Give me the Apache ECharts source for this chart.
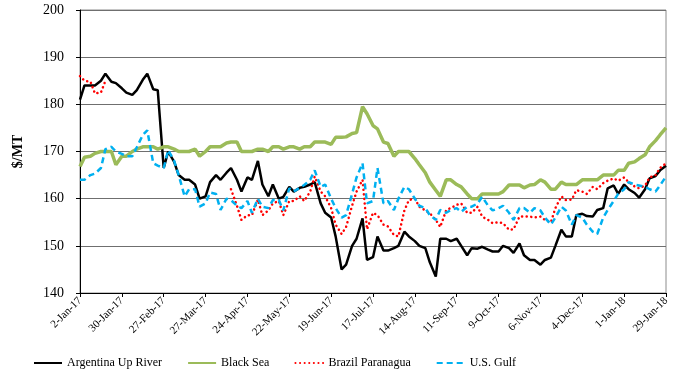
<!DOCTYPE html>
<html>
<head>
<meta charset="utf-8">
<script src="https://cdn.jsdelivr.net/npm/echarts@6/dist/echarts.min.js"></script>
<style>html,body{margin:0;padding:0;background:#fff}#c{width:680px;height:386px}</style>
</head>
<body>
<div id="c"></div>
<script>
// Sampling grid: Mondays and Thursdays from 2-Jan-2017 to 29-Jan-2018
const startDate = '2017-01-02';
const dayOffsets = [];
for (let w = 0; w < 56; w++) { dayOffsets.push(w * 7, w * 7 + 3); }
dayOffsets.push(392);

const xTickLabels = ['2-Jan-17','30-Jan-17','27-Feb-17','27-Mar-17','24-Apr-17','22-May-17','19-Jun-17','17-Jul-17','14-Aug-17','11-Sep-17','9-Oct-17','6-Nov-17','4-Dec-17','1-Jan-18','29-Jan-18'];
const yTicks = [140,150,160,170,180,190,200];

const argentina = [
181,184, 184,184, 185,186.5, 184.8,184.5, 183.4,182.5, 182,183, 185.2,186.5, 183.2,183,
166.5,170, 167.8,165, 164,164, 163,160, 160.5,163.5, 165,164, 165.5,166.5, 164,161.5,
164.5,164, 168,163, 160.5,163, 160,160.4, 162.5,161.5, 162.3,162.5, 163,163.5, 159,157,
156,152, 145,146, 150,151.5, 155.8,147, 147.6,152, 149,149, 149.5,150, 153,152,
151,150, 149.5,146.5, 143.5,151.5, 151.5,151, 151.5,150, 148,149.5, 149.4,149.8, 149.2,148.8,
148.8,150, 149.5,148.5, 150.5,148, 147,147, 146,147, 147.5,150, 153.4,152, 152,156.5,
156.8,156.3, 156.2,157.6, 158,162.2, 162.8,161, 163,162, 161.2,160.2, 162,164.3, 164.8,166,
167];

const blackSea = [
166.8,168.8, 169,169.6, 170,170, 170,167.2, 169,169, 170,170.5, 171,171, 171,170.5,
171,171, 170.5,170, 170,170, 170.5,169, 170,171, 171,171, 171.8,172, 172,170,
170,170, 170.5,170.5, 170,171, 171,170.5, 171,171, 170.5,171, 171,172, 172,172,
171.5,173, 173,173.1, 173.8,174, 179.5,178, 175.5,174.8, 172,171.7, 169,170, 170,170,
168.5,167.2, 165.5,163.5, 161.8,160.5, 164,164, 163,162.5, 161,160, 160,161, 161,161,
161,161.5, 162.9,162.9, 162.9,162.3, 162.9,163, 164,163.5, 162,162, 163.5,163, 163,163,
164,164, 164,164, 165,165, 165,166, 166,167.5, 167.8,168.5, 169.3,171, 172.3,173.5,
175];

const brazil = [
186,185, 184.8,182.3, 182.5,185, null,null, null,null, null,null, null,null, null,null,
null,null, null,null, null,null, null,null, null,null, null,null, null,162, 158.5,155.5,
156.5,156.5, 159.8,156.5, 157.5,159, 159.5,156.5, 159.5,159.5, 160.5,159.5, 161.5,164.7, 161.5,160.5,
158,154.5, 152.5,154, 158.5,161.5, 164,153.5, 157,156.5, 154.5,154.1, 152.3,152, 157.5,159.7,
160,158.3, 157.5,156.9, 155.5,154, 157.6,158, 158.7,159, 157,157, 158.3,156.2, 155.5,154.8,
155,154.8, 153.4,153.5, 156.2,156.2, 156.2,156, 156.2,155.5, 155,158, 160.5,159.7, 159.8,161.8,
161.5,161, 162.5,162, 163.3,163.8, 164.3,163.8, 164.5,163.5, 162.6,162.2, 162.8,164.5, 165,166.5,
167.5];

const usGulf = [
164,164, 165,165.3, 166.5,170.5, 171,170, 169.5,169, 169,170.9, 173.5,174.5, 167.5,167,
166.5,170.3, 168,165, 160.5,162, 162,158.3, 159,161.3, 161,157.6, 160,159.7, 158.5,158,
159.5,157, 160,158.3, 158,159.7, 159.7,157.5, 162.2,161.5, 162.3,162.9, 164,166, 162.5,163,
160,158, 156,156.5, 161,164.5, 167.5,159, 159.5,166.5, 159,159.5, 157.6,160, 162.5,162,
160,158.5, 158,156.5, 155.5,157.6, 157,157.6, 158,157.2, 158.3,158.3, 159,160.4, 158.5,157.5,
158,158.5, 157,155.5, 158,158, 157,158, 157.5,156, 154.5,156, 158.3,157.5, 154.5,156.5,
156,154.5, 153,152.5, 156,157.6, 159.5,161, 162,163.5, 163,162.8, 162.5,162, 161.5,162.8,
164.7];

function pairs(vals) { return dayOffsets.map((d, i) => [d, vals[i]]); }

const FONT = 'Liberation Serif';
const chart = echarts.init(document.getElementById('c'), null, { renderer: 'canvas' });
chart.setOption({
  animation: false,
  backgroundColor: '#fff',
  grid: { left: 80, right: 14, top: 10, bottom: 93, show: true, borderColor: '#8c8c8c', borderWidth: 1 },
  xAxis: {
    type: 'value', min: 0, max: 392, interval: 28,
    axisLine: { show: true, lineStyle: { color: '#000', width: 1 } },
    axisTick: { show: true, length: 4, lineStyle: { color: '#000' } },
    splitLine: { show: false },
    axisLabel: {
      rotate: 45, margin: 6, color: '#000', fontFamily: FONT, fontSize: 11,
      formatter: v => xTickLabels[Math.round(v / 28)] || ''
    }
  },
  yAxis: {
    type: 'value', min: yTicks[0], max: yTicks[yTicks.length - 1], interval: 10,
    name: '$/MT', nameLocation: 'middle', nameGap: 55,
    nameTextStyle: { fontFamily: FONT, fontSize: 14, fontWeight: 'bold', color: '#000' },
    axisLine: { show: true, lineStyle: { color: '#000', width: 1 } },
    axisTick: { show: true, length: 4, lineStyle: { color: '#000' } },
    splitLine: { show: true, lineStyle: { color: '#6f6f6f', width: 1 } },
    axisLabel: { margin: 16, color: '#000', fontFamily: FONT, fontSize: 14 }
  },
  legend: {
    left: 28, top: 352, itemWidth: 28, itemHeight: 10, itemGap: 25,
    itemStyle: { opacity: 0 },
    textStyle: { fontFamily: FONT, fontSize: 12, color: '#000' },
    data: ['Argentina Up River', 'Black Sea', 'Brazil Paranagua', 'U.S. Gulf']
  },
  series: [
    { name: 'Argentina Up River', type: 'line', data: pairs(argentina), showSymbol: false, symbol: 'none',
      lineStyle: { color: '#000', width: 2.5 }, itemStyle: { color: '#000' } },
    { name: 'Black Sea', type: 'line', data: pairs(blackSea), showSymbol: false, symbol: 'none',
      lineStyle: { color: '#9BBB59', width: 3.5 }, itemStyle: { color: '#9BBB59' } },
    { name: 'Brazil Paranagua', type: 'line', data: pairs(brazil), showSymbol: false, symbol: 'none', connectNulls: false,
      lineStyle: { color: '#FF0000', width: 2.5, type: [0.1, 4.5], cap: 'round' }, itemStyle: { color: '#FF0000' } },
    { name: 'U.S. Gulf', type: 'line', data: pairs(usGulf), showSymbol: false, symbol: 'none',
      lineStyle: { color: '#00B0F0', width: 2.5, type: [6, 4] }, itemStyle: { color: '#00B0F0' } }
  ]
});
</script>
</body>
</html>
